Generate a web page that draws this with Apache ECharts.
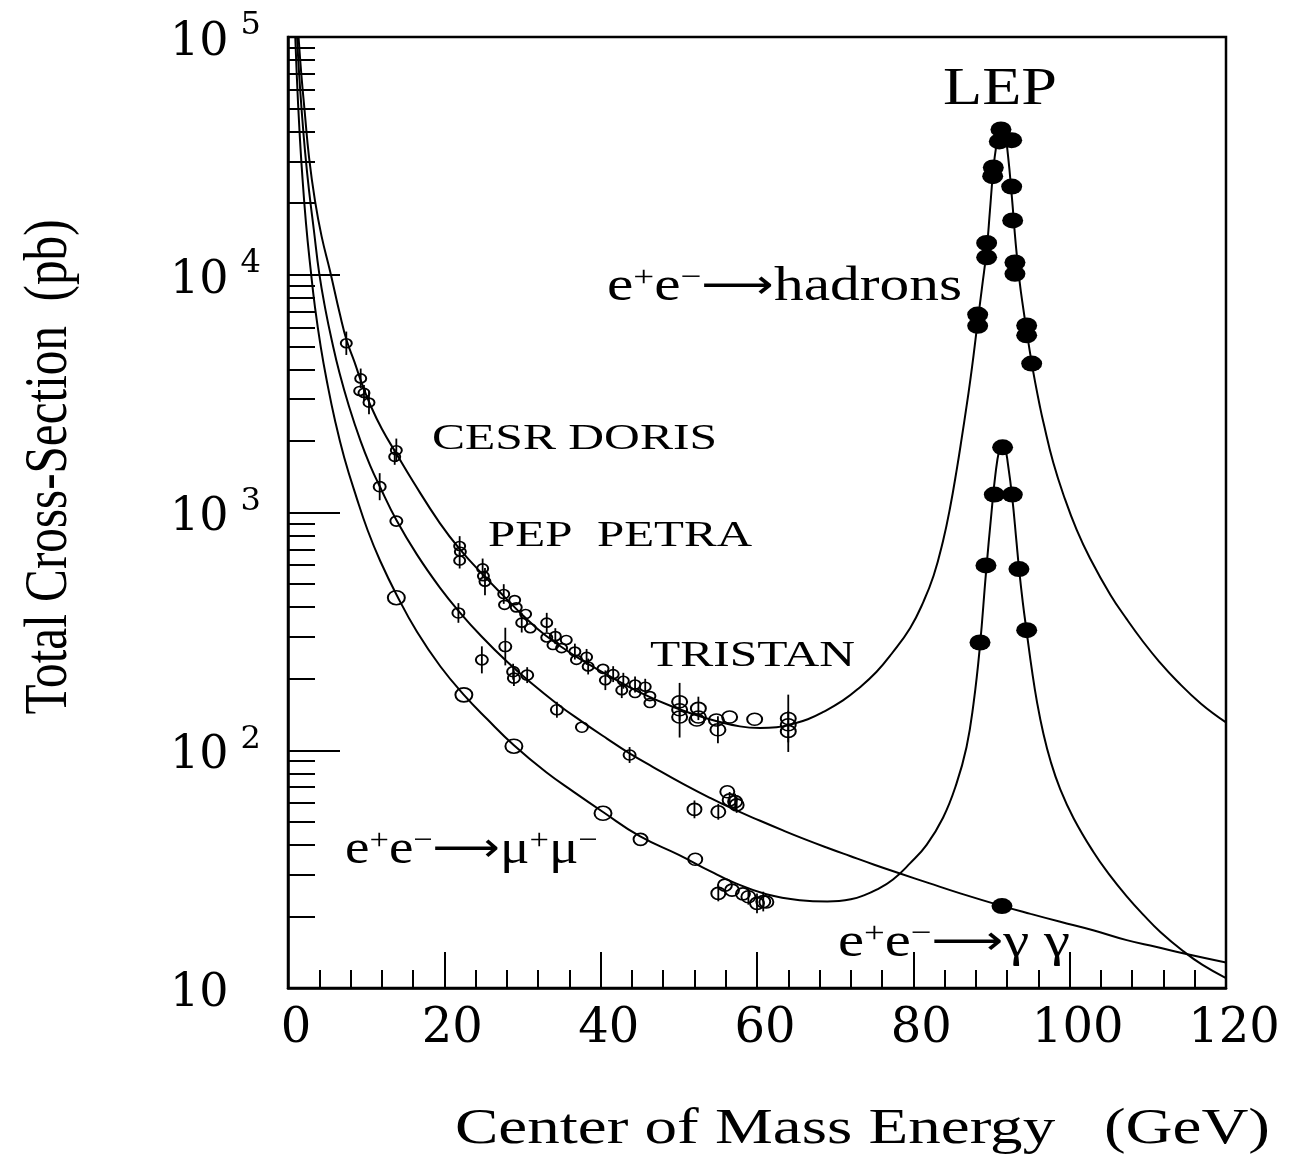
<!DOCTYPE html>
<html><head><meta charset="utf-8">
<script src="https://cdn.jsdelivr.net/npm/echarts@6/dist/echarts.min.js"></script>
<style>html,body{margin:0;padding:0;background:#fff}#c{width:1304px;height:1157px}</style>
</head><body><div id="c"></div>
<script>
// ---------------- DATA ----------------
// Theory curves: [energy GeV, cross-section pb]
const hadronCurve = [[1.35,100000],[1.7,70000],[2.1,50000],[2.7,31000],[3.45,20500],[4.3,14500],[5.37,10400],[6.65,6800],[7.5,5300],[8.5,4300],[9.5,3450],[10.5,2850],[12.0,2250],[13.9,1760],[16.0,1350],[19.4,905],[22.0,700],[25.0,545],[27.6,445],[30.1,368],[33.0,303],[36.5,252],[40.8,208],[45.0,175],[49.3,152],[53.6,136],[57.8,126],[60.4,124],[62.5,125],[64.5,129],[66.5,135],[68.5,145],[71.0,162],[73.0,182],[75.3,214],[77.2,254],[79.6,327],[81.3,422],[82.6,543],[83.8,759],[84.7,1047],[85.6,1549],[86.2,2065],[86.8,2786],[87.3,3631],[87.7,4571],[88.2,6237],[88.8,8913],[89.4,12882],[89.8,18621],[90.2,26915],[90.6,34674],[91.0,39537],[91.35,41020],[91.7,39400],[92.1,32000],[92.6,21380],[93.1,13490],[93.6,9333],[94.1,7079],[94.5,5781],[95.1,4345],[95.6,3508],[96.2,2786],[96.6,2427],[97.9,1622],[99.4,1138],[100.9,845],[102.6,642],[105.2,451],[107.3,356],[109.4,286],[111.5,235],[113.7,196],[116.8,157],[120,131]];
const muonCurve = [[0.93,100000],[1.15,66000],[1.45,41500],[1.8,27000],[2.3,16500],[2.9,10500],[3.45,7300],[4.2,4950],[4.95,3600],[6.0,2450],[7.2,1700],[8.79,1150],[10.2,840],[11.8,625],[13.9,450],[16.5,315],[19.5,225],[22.5,171],[25.5,135],[28.9,105],[33,81],[36.5,67],[40.3,55],[45,43.5],[50,36.3],[54,31],[57,27.8],[61.2,24.8],[65.5,23.4],[69,23.1],[70.5,23.2],[72,23.6],[73.5,24.4],[75.3,25.9],[77.4,28.6],[79.6,33.5],[81.7,40],[83.8,52],[85.5,72],[86.8,103],[87.7,157],[88.5,270],[89.3,560],[90.0,1000],[90.5,1445],[91.0,1841],[91.35,1936],[91.7,1888],[92.1,1603],[92.66,1150],[93.2,750],[93.5,590],[94.0,420],[94.5,315],[95.2,214],[95.8,161],[96.6,119],[97.6,89],[98.8,68.5],[100.5,51.8],[103,37.5],[105,30.2],[107.3,24.3],[109.5,20.2],[111.6,17.2],[114.5,14.3],[117,12.5],[120,11.0]];
const gammaCurve = [[1.16,100000],[1.4,72000],[1.75,49000],[2.2,32500],[2.7,22500],[3.3,15500],[4.0,10100],[4.8,7100],[5.6,5300],[6.6,3850],[7.8,2800],[9.3,1990],[10.5,1580],[11.73,1290],[13.9,925],[16.5,665],[19.45,482],[21.8,386],[24.8,300],[28.0,236],[31,193],[34.4,157],[37.6,132],[40.8,112],[43.7,97],[46.7,85],[50.6,72],[54,63],[57,56.5],[60.4,50.5],[63.4,45.9],[66,42.4],[68.9,39],[71.9,35.9],[75,33],[78.3,30.3],[82,27.6],[86,25],[91.4,22.1],[95,20.5],[98.8,19.0],[103,17.5],[107.3,15.9],[111,14.9],[114.5,14.0],[120,12.8]];

// Measurements: [energy GeV, cross-section pb, error %]
const hadronLowData = [[7.46,5150,12],[9.30,3665,10],[9.17,3245,0],[9.72,3185,8],[10.36,2900,12],[13.86,1827,12],[13.65,1714,8],[21.96,723,10],[22.05,684,0],[21.96,628,8],[24.9,582,10],[25.0,540,0],[25.2,512,14],[27.6,454,10],[29.0,428,0],[27.7,409,0],[29.2,399,0],[30.4,374,0],[29.9,344,10],[31.0,326,0],[33.1,344,10],[33.1,298,0],[34.2,302,8],[35.6,291,0],[33.9,277,0],[35.0,269,0],[36.7,260,8],[38.2,247,8],[36.9,240,0],[38.4,225,8],[40.3,220,0],[41.6,209,8],[40.6,197,10],[42.9,196,8],[44.4,189,8],[45.7,185,8],[42.7,179,8],[44.4,174,0],[46.3,169,0],[46.3,158,0]];
const hadronTristanData = [[50.1,160,20],[50.1,148,0],[50.1,138,22],[52.5,150,12],[52.5,138,0],[52.3,134,0],[54.8,134,0],[55.0,122,14],[56.5,138,0],[59.7,135,0],[64.0,136,26],[64.0,128,0],[64.0,120,22]];
const gammaLowData = [[11.73,1284,14],[13.86,920,0],[21.8,378,10],[24.8,240,14],[27.8,273,20],[28.8,214,8],[30.6,207,8],[28.9,201,8],[34.4,148,8],[37.6,125,0],[43.7,95.5,8]];
const gammaMidData = [[52.0,56.4,9],[55.05,55.1,8],[56.2,66.9,0],[56.5,61.8,8],[57.2,60.8,8],[57.4,58.9,8]];
const muonLargeData = [[13.86,438,0],[22.5,171,0],[28.9,104,0],[40.3,54.3,0]];
const muonMidData = [[45.1,42.2,0],[52.1,34.8,0],[55.9,27.1,0],[55.05,25.0,8],[56.8,25.8,0],[58.2,24.9,0],[58.9,24.2,8],[60.0,22.7,10],[60.8,23.1,10],[61.2,23.0,0]];
const lepHadronData = [[91.21,40860],[91.0,36360],[92.58,36810],[90.23,28250],[90.15,25970],[92.58,23480],[92.71,16930],[89.38,13600],[89.38,11840],[93.0,11260],[93.0,10090],[88.23,6800],[88.23,6100],[94.5,6120],[94.5,5560],[95.14,4230]];
const lepMuonData = [[91.42,1880],[90.36,1190],[92.66,1190],[89.29,599],[93.51,578],[94.5,320],[88.53,284]];
const lepGammaData = [[91.34,22.1]];

// Axis ticks / labels
const xTickValues = [0, 20, 40, 60, 80, 100, 120];
const yTickValues = [10, 100, 1000, 10000, 100000];
const yTickSup = ['', '2', '3', '4', '5'];
const yMinorMultipliers = [2, 3, 4, 5, 6, 7, 8, 9];

// ---------------- CHART ----------------
const SERIF = '"Liberation Serif", "Times New Roman", serif';
const WIDE = '"DejaVu Serif", serif';
const ARROWF = '"DejaVu Sans", sans-serif';

const minorLogTicks = [];
for (let d = 10; d < 100000; d *= 10) for (const m of yMinorMultipliers) minorLogTicks.push(Math.log10(m * d));

const errorBars = [];
[hadronLowData, hadronTristanData, gammaLowData, gammaMidData, muonLargeData, muonMidData].forEach(set => {
  set.forEach(p => { if (p[2] > 0) { const f = 1 + p[2] / 100; errorBars.push([p[0], p[1] / f, p[1] * f]); } });
});

const ELLIPSE = 'path://M-1,0A1,1,0,1,0,1,0A1,1,0,1,0,-1,0Z';
function curve(data) {
  return { type: 'line', data: data, showSymbol: false, smooth: 0.45,
    lineStyle: { color: '#000', width: 2, opacity: 1 }, z: 2, silent: true };
}
function openPts(data, size) {
  return { type: 'scatter', data: data.map(p => [p[0], p[1]]), symbol: ELLIPSE, symbolSize: size,
    itemStyle: { color: 'rgba(0,0,0,0)', borderColor: '#000', borderWidth: 1.8, opacity: 1 }, z: 4, silent: true };
}
function filledPts(data, size) {
  return { type: 'scatter', data: data, symbol: ELLIPSE, symbolSize: size,
    itemStyle: { color: '#000', borderColor: '#000', borderWidth: 0, opacity: 1 }, z: 5, silent: true };
}

// text measurement for horizontal stretch of annotation labels
const mctx = document.createElement('canvas').getContext('2d');
function tw(str, size, family) { mctx.font = size + 'px ' + family; return mctx.measureText(str).width; }

function richAnno(segs, left, right, cy, size, supSize) {
  const rich = {
    n: { fontFamily: SERIF, fontSize: size, fill: '#000', color: '#000' },
    p: { fontFamily: SERIF, fontSize: supSize, verticalAlign: 'top', fill: '#000', color: '#000', lineHeight: supSize },
    r: { fontFamily: ARROWF, fontSize: size * 0.85, fill: '#000', color: '#000' }
  };
  let w = 0, text = '';
  segs.forEach(s => {
    const st = rich[s[1]];
    w += tw(s[0], st.fontSize, st.fontFamily);
    text += '{' + s[1] + '|' + s[0] + '}';
  });
  return { type: 'text', x: left, y: cy, scaleX: (right - left) / w, z: 10,
    style: { text: text, rich: rich, align: 'left', verticalAlign: 'middle', textAlign: 'left', textVerticalAlign: 'middle', fill: '#000' } };
}
function plainAnno(str, left, right, cy, size) {
  const w = tw(str, size, SERIF);
  return { type: 'text', x: left, y: cy, scaleX: (right - left) / w, z: 10,
    style: { text: str, font: size + 'px ' + SERIF, fill: '#000', align: 'left', verticalAlign: 'middle', textAlign: 'left', textVerticalAlign: 'middle' } };
}

const yTitle = 'Total Cross-Section  (pb)';
const yTitleSize = 62;
const xTitle = 'Center of Mass Energy   (GeV)';
const xTitleSize = 50;

const graphics = [
  plainAnno('LEP', 943, 1057, 90, 52),
  richAnno([['e','n'],['+','p'],['e','n'],['\u2212','p'],['\u27F6','r'],['hadrons','n']], 607, 962, 287, 48, 30),
  plainAnno('CESR DORIS', 432, 717, 440, 36),
  plainAnno('PEP  PETRA', 488, 752, 537, 36),
  plainAnno('TRISTAN', 650, 855, 657, 36),
  richAnno([['e','n'],['+','p'],['e','n'],['\u2212','p'],['\u27F6','r'],['\u03BC','n'],['+','p'],['\u03BC','n'],['\u2212','p']], 345, 598, 850, 48, 30),
  richAnno([['e','n'],['+','p'],['e','n'],['\u2212','p'],['\u27F6','r'],['\u03B3','n'],[' ','n'],['\u03B3','n']], 838, 1070, 943, 48, 30),
  { type: 'text', x: 50, y: 467, rotation: Math.PI / 2, scaleX: 495 / tw(yTitle, yTitleSize, SERIF), z: 10,
    style: { text: yTitle, font: yTitleSize + 'px ' + SERIF, fill: '#000', align: 'center', verticalAlign: 'middle', textAlign: 'center', textVerticalAlign: 'middle' } },
  plainAnno(xTitle, 455, 1270, 1130, xTitleSize)
];

const chart = echarts.init(document.getElementById('c'), null, { renderer: 'canvas', width: 1304, height: 1157 });
chart.setOption({
  animation: false,
  backgroundColor: '#fff',
  grid: { left: 288, top: 37, width: 938, height: 951, show: true, borderColor: '#000', borderWidth: 2.5, backgroundColor: 'transparent' },
  xAxis: {
    type: 'value', min: 0, max: 120, interval: 20,
    axisLine: { show: true, onZero: false, lineStyle: { color: '#000', width: 2.5 } },
    axisTick: { show: true, inside: true, length: 36, lineStyle: { color: '#000', width: 2 } },
    minorTick: { show: true, splitNumber: 5, length: 18, lineStyle: { color: '#000', width: 2 } },
    splitLine: { show: false },
    axisLabel: { show: true, fontFamily: WIDE, fontSize: 48, color: '#000', margin: 18, padding: [0, 0, 0, 16],
      formatter: v => (xTickValues.indexOf(v) >= 0 ? String(v) : '') }
  },
  yAxis: [
    {
      type: 'log', logBase: 10, min: 10, max: 100000, position: 'left',
      axisLine: { show: true, lineStyle: { color: '#000', width: 2.5 } },
      axisTick: { show: true, inside: true, length: 52, lineStyle: { color: '#000', width: 2 } },
      splitLine: { show: false }, minorTick: { show: false },
      axisLabel: {
        show: true, align: 'left', margin: 118,
        formatter: v => {
          const e = Math.round(Math.log10(v));
          const i = yTickValues.indexOf(Math.pow(10, e));
          const sup = i >= 0 ? yTickSup[i] : '';
          return sup ? '{a|10}{s|' + sup + '}' : '{a|10}';
        },
        rich: {
          a: { fontFamily: WIDE, fontSize: 46, color: '#000', lineHeight: 70, padding: [12, 0, 0, 0] },
          s: { fontFamily: WIDE, fontSize: 32, color: '#000', verticalAlign: 'top', padding: [8, 0, 0, 12] }
        }
      }
    },
    {
      type: 'value', min: 1, max: 5, position: 'left',
      axisLine: { show: false },
      axisTick: { show: true, inside: true, length: 27, customValues: minorLogTicks, lineStyle: { color: '#000', width: 2 } },
      axisLabel: { show: false }, splitLine: { show: false }
    }
  ],
  series: [
    curve(hadronCurve),
    curve(muonCurve),
    curve(gammaCurve),
    { type: 'custom', data: errorBars, encode: { x: 0, y: [1, 2] }, z: 3, silent: true,
      renderItem: function (params, api) {
        const a = api.coord([api.value(0), api.value(1)]);
        const b = api.coord([api.value(0), api.value(2)]);
        return { type: 'line', shape: { x1: a[0], y1: a[1], x2: b[0], y2: b[1] }, style: { stroke: '#000', lineWidth: 1.8 } };
      } },
    openPts(hadronLowData, [11, 9]),
    openPts(hadronTristanData, [15, 12]),
    openPts(gammaLowData, [12, 10]),
    openPts(gammaMidData, [14, 12]),
    openPts(muonLargeData, [17, 14]),
    openPts(muonMidData, [14, 12]),
    filledPts(lepHadronData, [21, 16]),
    filledPts(lepMuonData, [21, 16]),
    filledPts(lepGammaData, [21, 16])
  ],
  graphic: graphics
});
</script>
</body></html>
